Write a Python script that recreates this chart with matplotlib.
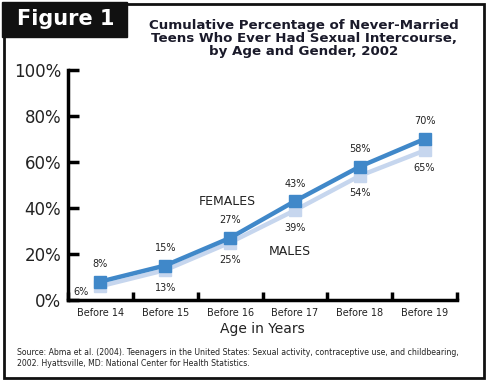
import matplotlib.pyplot as plt
from matplotlib.patches import Rectangle

ages = ["Before 14", "Before 15", "Before 16", "Before 17", "Before 18", "Before 19"]
females = [8, 15, 27, 43, 58, 70]
males = [6, 13, 25, 39, 54, 65]
yticks = [0, 20, 40, 60, 80, 100]

blue = "#4088c9"
light = "#c6d6ee"

fig = plt.figure(figsize=(4.87, 3.82), dpi=100)
ax = fig.add_axes([68/487, 1-300/382, (457-68)/487, 230/382])

x = list(range(len(ages)))
ax.plot(x, males, color=light, lw=3.2, marker="s", ms=9, zorder=2)
ax.plot(x, females, color=blue, lw=3.2, marker="s", ms=9, zorder=3)

for i, (f, m) in enumerate(zip(females, males)):
    ax.annotate(f"{f}%", (i, f), xytext=(0, 9), textcoords="offset points",
                ha="center", va="bottom", fontsize=7, color="#222222")
    if i == 0:
        ax.annotate(f"{m}%", (i, m), xytext=(-14, -4), textcoords="offset points",
                    ha="center", va="center", fontsize=7, color="#222222")
    else:
        ax.annotate(f"{m}%", (i, m), xytext=(0, -9), textcoords="offset points",
                    ha="center", va="top", fontsize=7, color="#222222")

ax.text(1.95, 43, "FEMALES", ha="center", va="center", fontsize=9, color="#222222")
ax.text(2.92, 21, "MALES", ha="center", va="center", fontsize=9, color="#222222")

ax.set_xlim(-0.5, 5.5)
ax.set_ylim(0, 100)
ax.set_yticks(yticks)
ax.set_yticklabels([f"{v}%" for v in yticks], fontsize=12, color="#222222")
ax.set_xticks(x)
ax.set_xticklabels(ages, fontsize=7, color="#222222")
ax.set_xticks([i + 0.5 for i in range(-1, 6)], minor=True)
ax.tick_params(axis="x", which="major", length=0, pad=6)
ax.tick_params(axis="x", which="minor", direction="in", length=6, width=2.5)
ax.tick_params(axis="y", direction="in", length=8, width=2.5, pad=5)
for s in ["top", "right"]:
    ax.spines[s].set_visible(False)
for s in ["left", "bottom"]:
    ax.spines[s].set_linewidth(2.5)
ax.set_xlabel("Age in Years", fontsize=10, color="#222222", labelpad=3)
ax.set_facecolor("none")

# frame and header box
fig.add_artist(Rectangle((4/487, 1-378/382), 480/487, 374/382, transform=fig.transFigure,
                         fill=False, lw=2, ec="#111111"))
fig.add_artist(Rectangle((2/487, 1-37/382), 125/487, 35/382, transform=fig.transFigure,
                         color="#111111"))
fig.text(66/487, 1-19/382, "Figure 1", ha="center", va="center", fontsize=15,
         fontweight="heavy", color="white")
fig.text(304/487, 1-38/382, "Cumulative Percentage of Never-Married\n"
         "Teens Who Ever Had Sexual Intercourse,\nby Age and Gender, 2002",
         ha="center", va="center", fontsize=9.6, fontweight="heavy", color="#1a1a2a",
         linespacing=1.0)
fig.text(17/487, 1-358/382, "Source: Abma et al. (2004). Teenagers in the United States: Sexual activity, "
         "contraceptive use, and childbearing,\n2002. Hyattsville, MD: National Center for Health Statistics.",
         ha="left", va="center", fontsize=5.6, color="#222222")

fig.savefig("out.png", dpi=100)
